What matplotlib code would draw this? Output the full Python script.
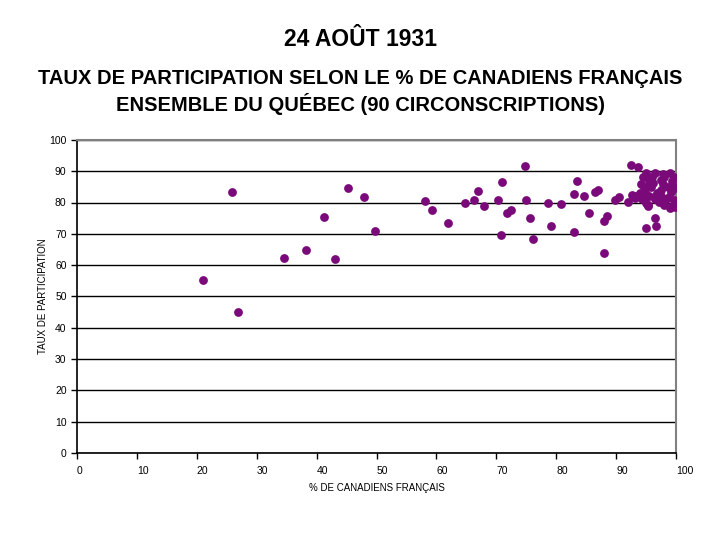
import matplotlib
matplotlib.use("Agg")
import matplotlib.pyplot as plt

plt.rcParams['font.family'] = ['Liberation Sans', 'DejaVu Sans']

# % de Canadiens français (x) et taux de participation (y)
pct_fr = [25.8, 45.2, 47.9, 41.2, 49.8, 38.3, 34.5, 43.0, 21.0, 26.8,
          74.7, 58.1, 59.2, 61.9, 64.8, 66.2, 67.0, 67.9, 70.2, 71.0,
          70.7, 71.7, 72.4, 75.0, 75.6, 76.1, 78.6, 79.1, 80.8, 82.9,
          83.4, 83.0, 84.6, 85.4, 86.4, 86.9, 87.9, 88.4, 87.9,
          92.5, 93.7, 90.4, 89.8, 92.6, 92.0, 96.4, 96.7, 95.0,
          95.0, 96.5, 97.8, 99.0, 94.5, 96.0, 98.0, 99.6,
          95.5, 97.5, 99.3, 94.2, 96.2, 97.8, 94.6, 95.8, 98.6, 99.8,
          97.4, 99.5, 94.0, 96.8, 99.2, 93.3, 95.5, 97.5, 98.8,
          94.3, 96.5, 98.3, 99.6, 95.0, 97.2, 95.3, 98.0, 99.4,
          99.0, 99.8, 93.2, 94.8, 95.3, 96.5]
taux = [83.5, 84.6, 81.6, 75.5, 71.0, 64.8, 62.2, 62.0, 55.4, 45.1,
        91.7, 80.6, 77.7, 73.3, 79.9, 80.7, 83.7, 79.0, 80.9, 86.4,
        69.6, 76.8, 77.7, 80.9, 74.9, 68.5, 80.0, 72.5, 79.6, 70.6,
        86.9, 82.6, 82.0, 76.7, 83.2, 83.9, 74.1, 75.7, 64.0,
        92.0, 91.2, 81.9, 80.8, 82.4, 80.3, 75.2, 72.5, 71.8,
        89.3, 89.5, 89.2, 89.4, 88.0, 88.2, 88.0, 88.3,
        87.0, 87.2, 87.0, 86.0, 86.1, 85.9, 85.0, 85.1, 85.0, 84.8,
        84.0, 84.2, 83.0, 83.1, 83.2, 82.0, 82.1, 82.0, 81.9,
        81.0, 81.2, 81.0, 80.8, 80.0, 80.1, 79.0, 79.2, 79.0,
        78.3, 78.6, 81.5, 83.5, 79.2, 81.9]

fig = plt.figure(figsize=(7.2, 5.4), dpi=100)
ax = fig.add_axes([0.107, 0.161, 0.832, 0.580])

ax.scatter(pct_fr, taux, s=40, color='#7a0a7a', zorder=3, linewidths=0)

ax.set_xlim(0, 100)
ax.set_ylim(0, 100)
ax.set_xticks(range(0, 101, 10))
ax.set_yticks(range(0, 101, 10))
ax.yaxis.grid(True, color='black', linewidth=1)
ax.set_axisbelow(True)
for s in ['top', 'right']:
    ax.spines[s].set_color('#808080')
    ax.spines[s].set_linewidth(1.5)
for s in ['left', 'bottom']:
    ax.spines[s].set_color('black')
    ax.spines[s].set_linewidth(1.2)
ax.tick_params(axis='both', labelsize=7.5, length=4, width=1, direction='out')
ax.tick_params(axis='x', pad=5)
for lbl in ax.get_xticklabels():
    lbl.set_horizontalalignment('left')

ax.set_xlabel('% DE CANADIENS FRANÇAIS', fontsize=7, labelpad=5)
ax.set_ylabel('TAUX DE PARTICIPATION', fontsize=7, labelpad=1)

fig.text(0.5, 0.926, '24 AOÛT 1931', ha='center', va='center',
         fontsize=16.5, fontweight='bold')
fig.text(0.5, 0.830, 'TAUX DE PARTICIPATION SELON LE % DE CANADIENS FRANÇAIS\n'
         'ENSEMBLE DU QUÉBEC (90 CIRCONSCRIPTIONS)', ha='center', va='center',
         fontsize=14.5, fontweight='bold', linespacing=1.25)

fig.savefig('out.png', dpi=100)
